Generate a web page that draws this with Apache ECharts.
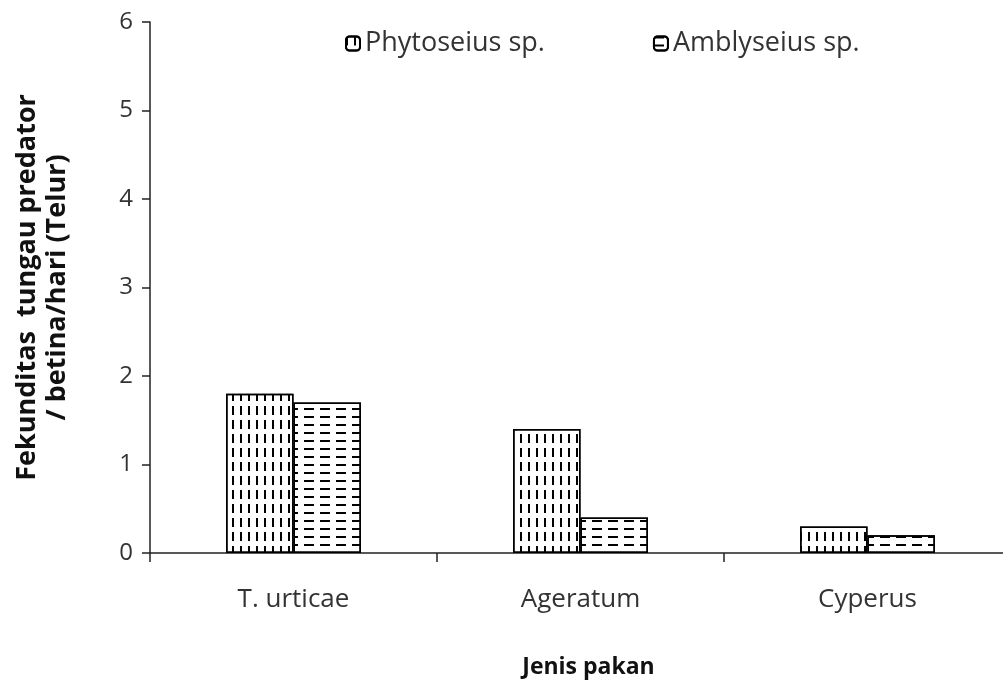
<!DOCTYPE html>
<html>
<head>
<meta charset="utf-8">
<script src="https://cdn.jsdelivr.net/npm/echarts@6/dist/echarts.min.js"></script>
<style>
html, body { margin: 0; padding: 0; background: #fff; }
#main { width: 1003px; height: 682px; }
</style>
</head>
<body>
<div id="main"></div>
<script>
var categories = ['T. urticae', 'Ageratum', 'Cyperus'];
var phytoseius = [1.8, 1.4, 0.3];
var amblyseius = [1.7, 0.4, 0.2];
var yTicks = [0, 1, 2, 3, 4, 5, 6];

var myChart = echarts.init(document.getElementById('main'), null, {renderer: 'canvas'});

var font = '"Open Sans", "Noto Sans", sans-serif';

// vertical dash pattern
var vDecal = {
    symbol: 'rect',
    symbolSize: 1,
    symbolKeepAspect: false,
    color: '#000',
    dashArrayX: [2, 6],
    dashArrayY: [9, 5]
};
// horizontal dash pattern
var hDecal = {
    symbol: 'rect',
    symbolSize: 1,
    symbolKeepAspect: false,
    color: '#000',
    dashArrayX: [10, 6],
    dashArrayY: [2, 6]
};

var option = {
    backgroundColor: '#fff',
    animation: false,
    textStyle: { fontFamily: font },
    legend: {
        top: 25,
        left: 340,
        itemGap: 108,
        itemWidth: 14,
        itemHeight: 14,
        textStyle: { fontSize: 27, color: '#333', fontFamily: font },
        data: ['Phytoseius sp.', 'Amblyseius sp.']
    },
    grid: { left: 150, right: -8, top: 22, bottom: 129, outerBoundsMode: 'none', containLabel: false },
    xAxis: {
        type: 'category',
        data: categories,
        name: 'Jenis pakan',
        nameLocation: 'middle',
        nameGap: 103,
        nameTextStyle: { fontSize: 23, fontWeight: 'bold', color: '#111', fontFamily: font, padding: [0, 0, 0, 16] },
        axisLine: { lineStyle: { color: '#222', width: 1.5 } },
        axisTick: { show: true, length: 9, lineStyle: { color: '#222', width: 1.5 } },
        axisLabel: { fontSize: 26, color: '#333', margin: 34 }
    },
    yAxis: {
        type: 'value',
        min: yTicks[0],
        max: yTicks[yTicks.length - 1],
        interval: 1,
        name: 'Fekunditas  tungau predator\n/ betina/hari (Telur)',
        nameLocation: 'middle',
        nameGap: 78,
        nameTextStyle: { fontSize: 27, fontWeight: 'bold', color: '#111', lineHeight: 30, fontFamily: font },
        axisLine: { show: true, lineStyle: { color: '#222', width: 1.5 } },
        axisTick: { show: true, length: 8, lineStyle: { color: '#222', width: 1.5 } },
        axisLabel: { fontSize: 24, color: '#333', margin: 17 },
        splitLine: { show: false }
    },
    series: [
        {
            name: 'Phytoseius sp.',
            type: 'bar',
            data: phytoseius,
            barGap: '0%',
            barCategoryGap: '53%',
            itemStyle: { color: '#fff', borderColor: '#000', borderWidth: 1.5, decal: vDecal }
        },
        {
            name: 'Amblyseius sp.',
            type: 'bar',
            data: amblyseius,
            itemStyle: { color: '#fff', borderColor: '#000', borderWidth: 1.5, decal: hDecal }
        }
    ]
};

myChart.setOption(option);
</script>
</body>
</html>
